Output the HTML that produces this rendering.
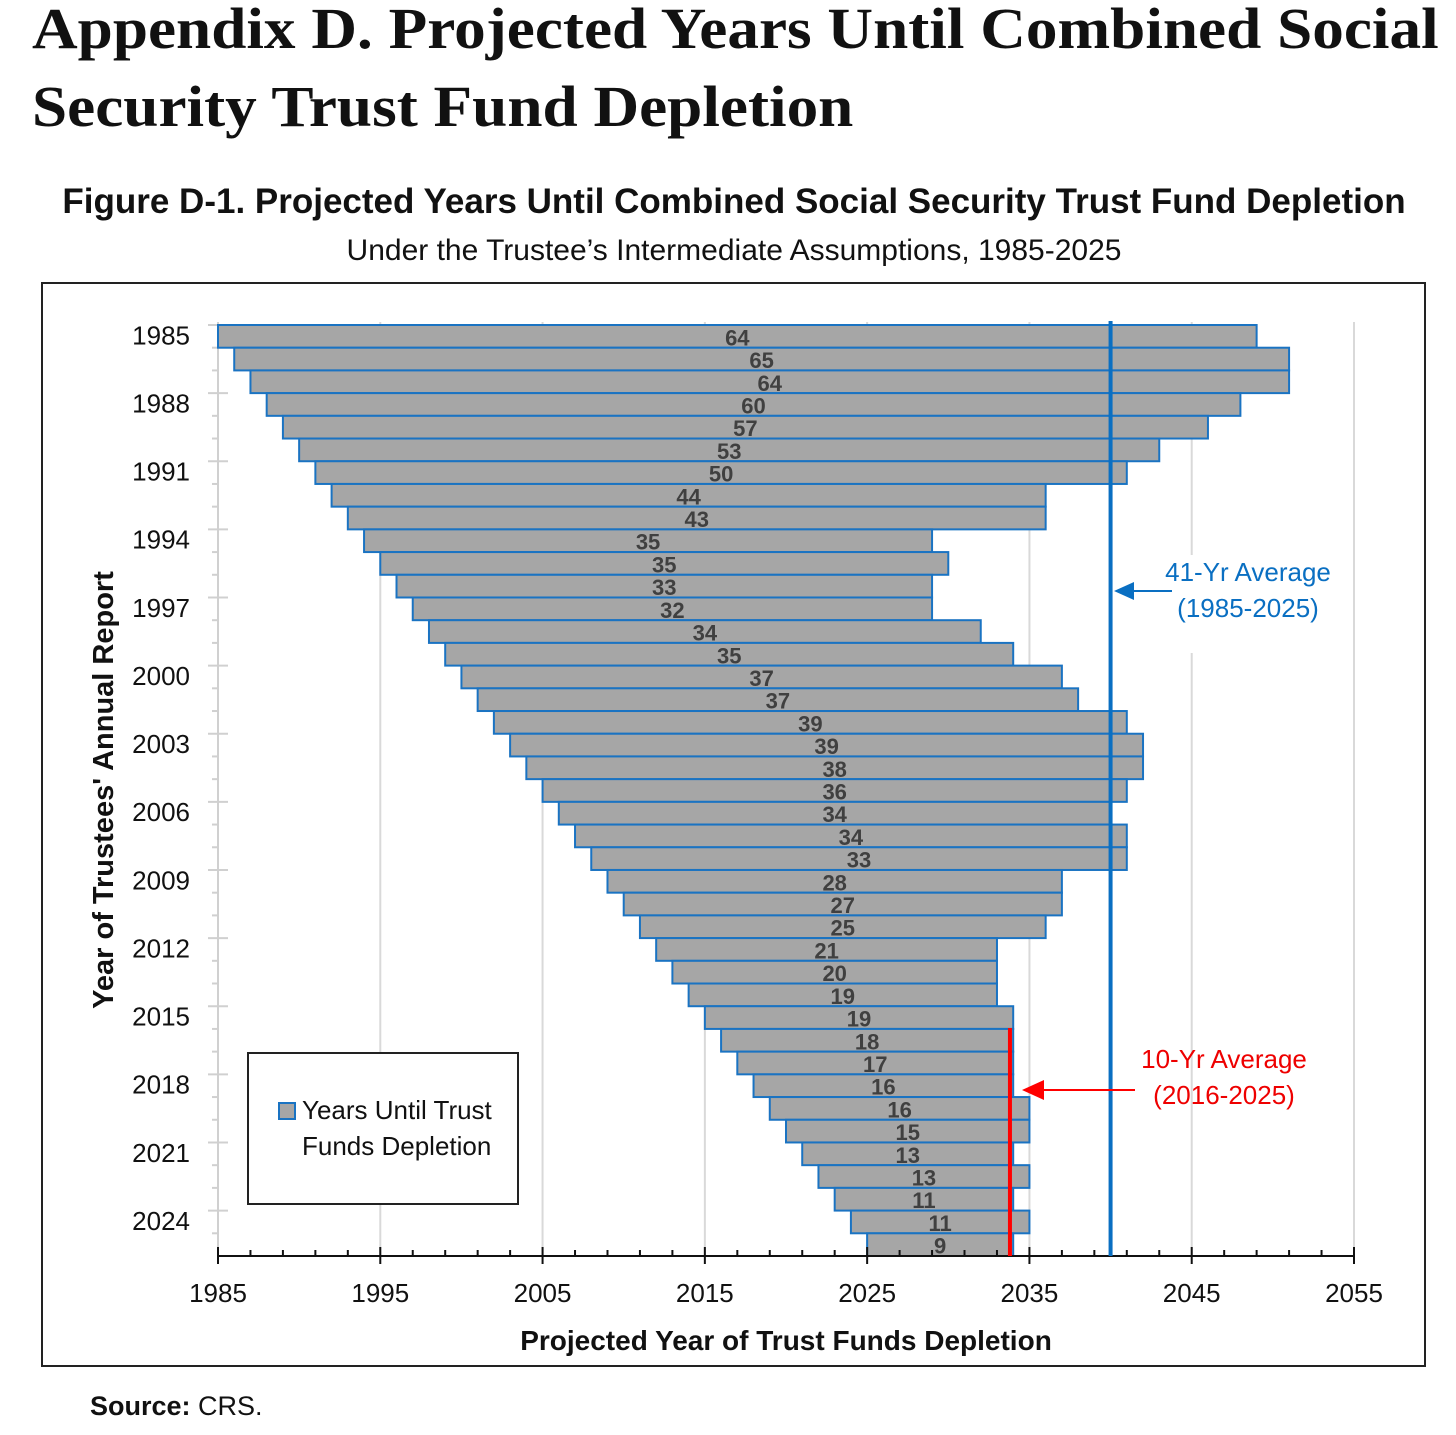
<!DOCTYPE html>
<html><head><meta charset="utf-8"><style>
body{margin:0;background:#fff;width:1456px;height:1435px;overflow:hidden;position:relative;font-family:"Liberation Sans",sans-serif}
.t{position:absolute;white-space:nowrap}
</style></head><body>
<div class="t" style="left:32px;top:-10px;font-family:'Liberation Serif',serif;font-weight:bold;font-size:58px;line-height:78px;color:#111;transform-origin:0 0;transform:scaleX(1.09)">Appendix D. Projected Years Until Combined Social<br>Security Trust Fund Depletion</div>
<div class="t" style="left:0;width:1468px;text-align:center;top:182px;font-weight:bold;font-size:35px;color:#111">Figure D-1. Projected Years Until Combined Social Security Trust Fund Depletion</div>
<div class="t" style="left:0;width:1468px;text-align:center;top:234px;font-size:30px;color:#111">Under the Trustee’s Intermediate Assumptions, 1985-2025</div>
<div class="t" style="left:90px;top:1391px;font-size:27px;color:#111"><b>Source:</b> CRS.</div>
<svg id="chart" width="1456" height="1435" style="position:absolute;left:0;top:0">
<rect x="42" y="283" width="1383" height="1083" fill="none" stroke="#222" stroke-width="2"/>
</svg>
<script>
const reportYears=[];for(let y=1985;y<=2025;y++)reportYears.push(y);
const yearsUntil=[64,65,64,60,57,53,50,44,43,35,35,33,32,34,35,37,37,39,39,38,36,34,34,33,28,27,25,21,20,19,19,18,17,16,16,15,13,13,11,11,9];
const xTicks=[1985,1995,2005,2015,2025,2035,2045,2055];
const avg41=2040, avg10=2033.8;
const NS='http://www.w3.org/2000/svg',svg=document.getElementById('chart');
const x=v=>218+(v-1985)*1136/70;
const rowH=931/41, top0=325;
const y=i=>top0+i*rowH;
function mk(t,a,p){const e=document.createElementNS(NS,t);for(const k in a)e.setAttribute(k,a[k]);(p||svg).appendChild(e);return e;}
xTicks.forEach(v=>{if(v>1985){const g=mk('line',{x1:x(v),x2:x(v),y1:322,y2:1256,stroke:'#d9d9d9','stroke-width':2});

}});
const ya=mk('line',{x1:218,x2:218,y1:322,y2:1256,stroke:'#d0d0d0','stroke-width':2});


reportYears.forEach((r,i)=>{const major=i%3===0;
const tk=mk('line',{x1:major?208:212,x2:major?228:218,y1:y(i),y2:y(i),stroke:'#d0d0d0','stroke-width':2});


if(major){const l=mk('text',{x:190,y:y(i)+rowH/2+8,'text-anchor':'end','font-size':26,fill:'#111'});l.textContent=r;

}});
reportYears.forEach((r,i)=>{const b=mk('rect',{x:x(r),y:y(i),width:x(r+yearsUntil[i])-x(r),height:rowH,fill:'#a6a6a6',stroke:'#1a73c2','stroke-width':2});

});
reportYears.forEach((r,i)=>{const t=mk('text',{x:(x(r)+x(r+yearsUntil[i]))/2,y:y(i)+rowH/2+9,'text-anchor':'middle','font-size':22,'font-weight':'bold',fill:'#404040'});t.textContent=yearsUntil[i];

});
const xa=mk('line',{x1:217,x2:1355,y1:1256,y2:1256,stroke:'#111','stroke-width':2});


for(let v=1985;v<=2055;v++){const maj=(v-1985)%10===0;if(!maj&&(v-1985)%2!==0)continue;
const tk=mk('line',{x1:x(v),x2:x(v),y1:maj?1247:1250,y2:maj?1264:1256,stroke:'#111','stroke-width':2});

}
xTicks.forEach(v=>{const l=mk('text',{x:x(v),y:1302,'text-anchor':'middle','font-size':26,fill:'#111'});l.textContent=v;

});
const xt=mk('text',{x:786,y:1350,'text-anchor':'middle','font-size':28,'font-weight':'bold',fill:'#111'});xt.textContent='Projected Year of Trust Funds Depletion';


const yt=mk('text',{x:0,y:0,'text-anchor':'middle','font-size':29,'font-weight':'bold',fill:'#111',transform:'translate(113,790) rotate(-90)'});yt.textContent="Year of Trustees' Annual Report";


const bl=mk('line',{x1:x(avg41),x2:x(avg41),y1:321,y2:1256,stroke:'#0a6fc2','stroke-width':4});


const rl=mk('line',{x1:x(avg10),x2:x(avg10),y1:1028,y2:1256,stroke:'#f00','stroke-width':4});


const bg=mk('rect',{x:1160,y:555,width:190,height:98,fill:'#fff'});


const a1=mk('line',{x1:1130,x2:1172,y1:591,y2:591,stroke:'#0a6fc2','stroke-width':2});


const h1=mk('polygon',{points:`1114,591 1134,582 1134,600`,fill:'#0a6fc2'});


[['41-Yr Average',581],['(1985-2025)',617]].forEach(([s,yy])=>{const t=mk('text',{x:1248,y:yy,'text-anchor':'middle','font-size':26,fill:'#0a6fc2'});t.textContent=s;

});
const a2=mk('line',{x1:1040,x2:1135,y1:1090,y2:1090,stroke:'#f00','stroke-width':2});


const h2=mk('polygon',{points:`1022,1090 1044,1080 1044,1100`,fill:'#f00'});


[['10-Yr Average',1068],['(2016-2025)',1104]].forEach(([s,yy])=>{const t=mk('text',{x:1224,y:yy,'text-anchor':'middle','font-size':26,fill:'#e00'});t.textContent=s;

});
const lg=mk('rect',{x:248,y:1053,width:270,height:151,fill:'#fff',stroke:'#222','stroke-width':2});


const ls=mk('rect',{x:279,y:1103,width:16,height:16,fill:'#a6a6a6',stroke:'#1a73c2','stroke-width':2});


[['Years Until Trust',1119],['Funds Depletion',1155]].forEach(([s,yy])=>{const t=mk('text',{x:302,y:yy,'font-size':26,fill:'#111'});t.textContent=s;

});
</script>
</body></html>
